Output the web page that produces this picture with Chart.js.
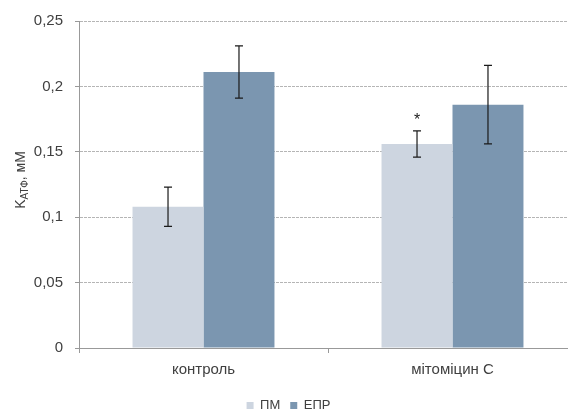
<!DOCTYPE html>
<html>
<head>
<meta charset="utf-8">
<script src="https://cdn.jsdelivr.net/npm/chart.js@4"></script>
<style>
  html, body { margin: 0; padding: 0; background: #fff; overflow: hidden; }
  #wrap { width: 580px; height: 410px; }
</style>
</head>
<body>
<div id="wrap"><canvas id="atpChart" width="580" height="410"></canvas></div>
<script>
// data
const categories = ["контроль", "мітоміцин С"];
const seriesNames = ["ПМ", "ЕПР"];
const pmValues = [0.108, 0.156];
const eprValues = [0.211, 0.186];
const pmErrors = [0.015, 0.010];
const eprErrors = [0.020, 0.030];
const pmMarks = ["", "*"];
const eprMarks = ["", ""];
const yTicks = [0, 0.05, 0.1, 0.15, 0.2, 0.25];

const FONT = "'Liberation Sans', Arial, sans-serif";
const TEXT = "#404040";

// error bars + significance marks
const errorBarPlugin = {
  id: "errorBars",
  afterDatasetsDraw(chart) {
    const ctx = chart.ctx;
    const y = chart.scales.y;
    chart.data.datasets.forEach((ds, i) => {
      const meta = chart.getDatasetMeta(i);
      meta.data.forEach((bar, j) => {
        const v = ds.data[j];
        const e = ds.errors[j];
        const top = y.getPixelForValue(v + e);
        const bot = y.getPixelForValue(v - e);
        ctx.save();
        ctx.strokeStyle = "#1a1a1a";
        ctx.lineWidth = 1.2;
        ctx.beginPath();
        ctx.moveTo(bar.x, top);
        ctx.lineTo(bar.x, bot);
        ctx.moveTo(bar.x - 4, top);
        ctx.lineTo(bar.x + 4, top);
        ctx.moveTo(bar.x - 4, bot);
        ctx.lineTo(bar.x + 4, bot);
        ctx.stroke();
        if (ds.marks[j]) {
          ctx.fillStyle = "#1a1a1a";
          ctx.font = "16px " + FONT;
          ctx.textAlign = "center";
          ctx.textBaseline = "alphabetic";
          ctx.fillText(ds.marks[j], bar.x, top - 6);
        }
        ctx.restore();
      });
    });
  },
};

// y-axis title with subscript
const yTitlePlugin = {
  id: "yTitle",
  afterDraw(chart) {
    const ctx = chart.ctx;
    const parts = [
      { t: "K", size: 14, dy: 0 },
      { t: "АТФ", size: 10, dy: 4 },
      { t: ", мМ", size: 14, dy: 0 },
    ];
    let total = 0;
    parts.forEach((p) => {
      ctx.font = p.size + "px " + FONT;
      p.w = ctx.measureText(p.t).width;
      total += p.w;
    });
    ctx.save();
    ctx.translate(21, 180);
    ctx.rotate(-Math.PI / 2);
    ctx.fillStyle = TEXT;
    ctx.textBaseline = "middle";
    ctx.textAlign = "left";
    let x = -total / 2;
    parts.forEach((p) => {
      ctx.font = p.size + "px " + FONT;
      ctx.fillText(p.t, x, p.dy);
      x += p.w;
    });
    ctx.restore();
  },
};

new Chart(document.getElementById("atpChart"), {
  type: "bar",
  data: {
    labels: categories,
    datasets: [
      {
        label: seriesNames[0],
        data: pmValues,
        errors: pmErrors,
        marks: pmMarks,
        backgroundColor: "#cdd5e0",
      },
      {
        label: seriesNames[1],
        data: eprValues,
        errors: eprErrors,
        marks: eprMarks,
        backgroundColor: "#7b96b0",
      },
    ],
  },
  options: {
    responsive: false,
    animation: false,
    layout: { padding: { left: 0, right: 3, top: 21, bottom: -12 } },
    datasets: {
      bar: { categoryPercentage: 0.57, barPercentage: 1.0 },
    },
    plugins: {
      legend: {
        position: "bottom",
        labels: {
          boxWidth: 7,
          boxHeight: 7,
          padding: 10,
          color: TEXT,
          font: { family: FONT, size: 13 },
        },
      },
      tooltip: { enabled: false },
    },
    scales: {
      x: {
        afterFit(scale) {
          scale.height = 41;
        },
        grid: {
          offset: true,
          drawOnChartArea: false,
          tickLength: 5,
          tickColor: "#999",
        },
        border: { color: "#999", width: 1 },
        ticks: {
          color: TEXT,
          font: { family: FONT, size: 15 },
          padding: 8,
        },
      },
      y: {
        min: 0,
        max: 0.25,
        afterFit(scale) {
          scale.width = 79;
        },
        afterBuildTicks(scale) {
          scale.ticks = yTicks.map((v) => ({ value: v }));
        },
        grid: {
          color: "#b5b5b5",
          tickColor: "#999",
          tickLength: 4,
          tickBorderDash: [],
        },
        border: { color: "#999", width: 1, dash: [3, 1] },
        ticks: {
          color: TEXT,
          font: { family: FONT, size: 15 },
          padding: 12,
          callback: (v) => String(Math.round(v * 100) / 100).replace(".", ","),
        },
      },
    },
  },
  plugins: [errorBarPlugin, yTitlePlugin],
});
</script>
</body>
</html>
